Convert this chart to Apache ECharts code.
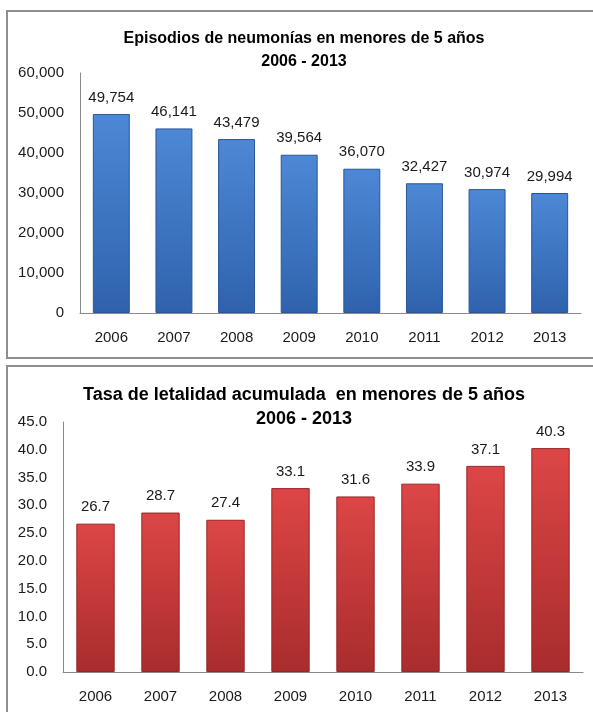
<!DOCTYPE html>
<html>
<head>
<meta charset="utf-8">
<script src="https://cdn.jsdelivr.net/npm/echarts@6/dist/echarts.min.js"></script>
<style>
  html, body { margin: 0; padding: 0; background: #fff; overflow: hidden; width: 593px; height: 712px; }
  .panel { position: absolute; left: 6px; width: 600px; border: 2px solid #8e8e8e; box-sizing: border-box; }
  #chartTop { top: 10px; height: 349px; }
  #chartBottom { top: 365px; height: 360px; }
</style>
</head>
<body>
<div id="chartTop" class="panel"></div>
<div id="chartBottom" class="panel"></div>
<script>
  // años
  var years = ['2006', '2007', '2008', '2009', '2010', '2011', '2012', '2013']
  // episodios de neumonias
  var episodios = [49754, 46141, 43479, 39564, 36070, 32427, 30974, 29994]
  // tasa de letalidad
  var letalidad = [26.7, 28.7, 27.4, 33.1, 31.6, 33.9, 37.1, 40.3]

  var titleTop = 'Episodios de neumonías en menores de 5 años\n2006 - 2013'
  var titleBottom = 'Tasa de letalidad acumulada  en menores de 5 años\n2006 - 2013'

  var font = 'Liberation Sans, Arial, sans-serif'

  function fmtMiles(v) {
    return Number(v).toLocaleString('en-US')
  }

  function makeOption(title, titleSize, lh, cats, vals, yMax, yInt, fmt, grid, titleTopPx, c1, c2, c3) {
    return {
      backgroundColor: '#fff',
      animation: false,
      title: {
        text: title,
        left: 291,
        top: titleTopPx,
        textAlign: 'center',
        textStyle: {
          fontFamily: font,
          fontSize: titleSize,
          fontWeight: 'bold',
          color: '#000',
          lineHeight: lh
        }
      },
      grid: grid,
      xAxis: {
        type: 'category',
        data: cats,
        axisLine: { lineStyle: { color: '#8a8a8a', width: 1 } },
        axisTick: { show: false },
        axisLabel: { margin: 17, fontFamily: font, fontSize: 15, color: '#1a1a1a' }
      },
      yAxis: {
        type: 'value',
        min: 0,
        max: yMax,
        interval: yInt,
        splitLine: { show: false },
        axisLine: { show: true, lineStyle: { color: '#8a8a8a', width: 1 } },
        axisTick: { show: false },
        axisLabel: { margin: 16, fontFamily: font, fontSize: 15, color: '#1a1a1a', formatter: fmt }
      },
      series: [{
        type: 'bar',
        data: vals,
        barWidth: '59%',
        itemStyle: {
          color: new echarts.graphic.LinearGradient(0, 0, 0, 1, [
            { offset: 0, color: c1 },
            { offset: 1, color: c2 }
          ]),
          borderColor: c3,
          borderWidth: 1
        },
        label: {
          show: true,
          position: 'top',
          distance: 9,
          fontFamily: font,
          fontSize: 15,
          color: '#1a1a1a',
          formatter: function (p) { return fmt(p.value) }
        }
      }]
    }
  }

  var chartTop = echarts.init(document.getElementById('chartTop'))
  chartTop.setOption(makeOption(
    titleTop, 16, 23, years, episodios, 60000, 10000, fmtMiles,
    { left: 72, top: 61, width: 501, height: 240 }, 10,
    '#4d88d6', '#2f62ad', '#2a5597'
  ))

  var chartBottom = echarts.init(document.getElementById('chartBottom'))
  chartBottom.setOption(makeOption(
    titleBottom, 18, 24, years, letalidad, 45, 5, function (v) { return Number(v).toFixed(1) },
    { left: 55, top: 55, width: 520, height: 250 }, 11,
    '#dd4646', '#a92c2c', '#962626'
  ))
</script>
</body>
</html>
